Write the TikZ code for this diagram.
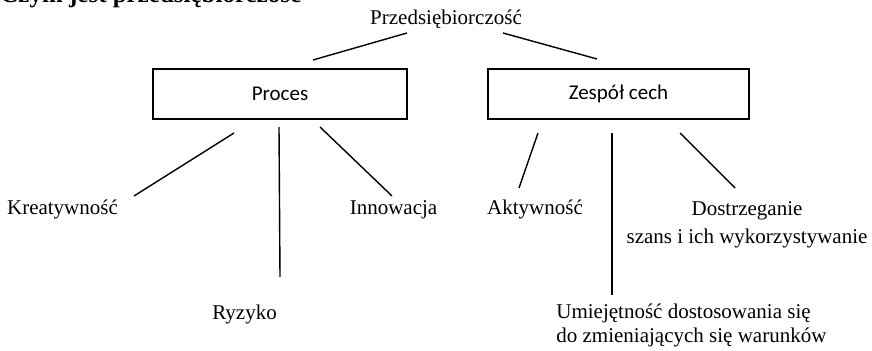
\documentclass[tikz,border=0pt]{standalone}
\usepackage{fontspec}
\setmainfont{Liberation Serif}
\newfontfamily\boxfont{Carlito}
\begin{document}
\begin{tikzpicture}[x=0.5pt,y=-0.5pt,
  lbl/.style={font=\fontsize{10.5}{12}\selectfont, inner sep=0pt, anchor=base},
  mlbl/.style={inner sep=0pt},
  box/.style={draw, line width=0.7pt, minimum height=25pt, inner sep=0pt,
    font=\boxfont\fontsize{10.5}{12}\selectfont},
  ln/.style={line width=0.7pt}]
\useasboundingbox (0,0) rectangle (872,351);
\begin{scope}
\clip (0,0) rectangle (872,351);
\node[anchor=base west, inner sep=0pt, font=\bfseries\fontsize{12.5}{15}\selectfont] (head) at (0,3) {Czym jest przedsiębiorczość};
\end{scope}
% root
\node[lbl] (root) at (446,25) {Przedsiębiorczość};
% boxes
\node[box, minimum width=127pt] (proces) at (280,94) {Proces};
\node[box, minimum width=130.5pt] (zespol) at (618.5,94) {Zespół cech};
% leaves
\node[lbl] (kreat) at (62.5,215) {Kreatywność};
\node[lbl] (innow) at (393.5,215) {Innowacja};
\node[lbl] (ryzyko) at (244.5,320) {Ryzyko};
\node[lbl] (aktyw) at (535,215) {Aktywność};
\node[mlbl, anchor=north, align=center, font=\fontsize{10.5}{14}\selectfont] (dostrz) at (747,201) {Dostrzeganie\\szans i ich wykorzystywanie};
\node[mlbl, anchor=north west, align=left, font=\fontsize{10.5}{12}\selectfont] (umiej) at (556,304) {Umiejętność dostosowania się\\do zmieniających się warunków};
% connector end points
\coordinate (r1) at (407,33); \coordinate (p1) at (313,60);
\coordinate (r2) at (503,33); \coordinate (z1) at (597,59);
\coordinate (pa) at (234,133); \coordinate (ka) at (134,196);
\coordinate (pb) at (279,127); \coordinate (rb) at (280,277);
\coordinate (pc) at (320,127); \coordinate (ic) at (392,196);
\coordinate (za) at (538,133); \coordinate (aa) at (519,188);
\coordinate (zb) at (612,133); \coordinate (ub) at (612,295);
\coordinate (zc) at (680,133); \coordinate (dc) at (735,188);
\draw[ln] (r1) -- (p1);
\draw[ln] (r2) -- (z1);
\draw[ln] (pa) -- (ka);
\draw[ln] (pb) -- (rb);
\draw[ln] (pc) -- (ic);
\draw[ln] (za) -- (aa);
\draw[ln] (zb) -- (ub);
\draw[ln] (zc) -- (dc);
\end{tikzpicture}
\end{document}
